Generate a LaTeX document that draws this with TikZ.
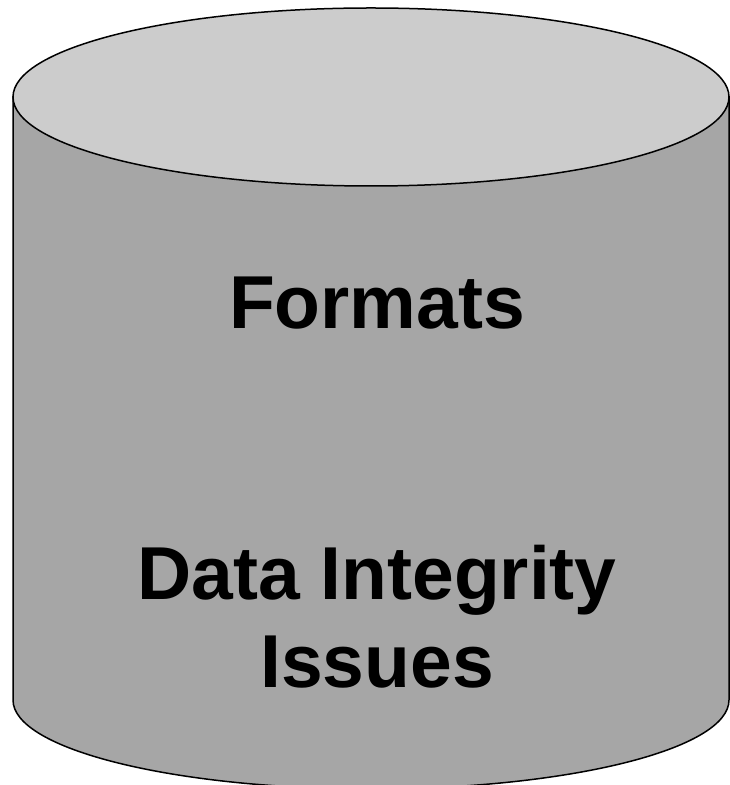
\documentclass[tikz,border=0pt]{standalone}
\usepackage{fontspec}
\setmainfont{Liberation Sans}
\usepackage{tikz}

\begin{document}
\begin{tikzpicture}[x = 1pt, y = 1pt,
    body/.style = {draw = black, line width = 1.5pt, fill = gray!70},
    lid/.style = {draw = black, line width = 1.5pt, fill = gray!40},
    label/.style = {anchor = base, font = \fontsize{75}{88}\selectfont\bfseries, inner sep = 0pt}]
            \useasboundingbox (0,0) rectangle (730,785);
            
            \draw[body] (13,688) -- (13,85)
            arc[start angle = 180, end angle = 360, x radius = 358, y radius = 89]
            -- (729,688) -- cycle;
            
            \draw[lid] (371,688) ellipse[x radius = 358, y radius = 89];
            
            \node[label] (formats) at (377,456) {Formats};
            \node[label] (integrity) at (377,185) {Data Integrity};
            \node[label] (issues) at (377,97) {Issues};
    \end{tikzpicture}
\end{document}
